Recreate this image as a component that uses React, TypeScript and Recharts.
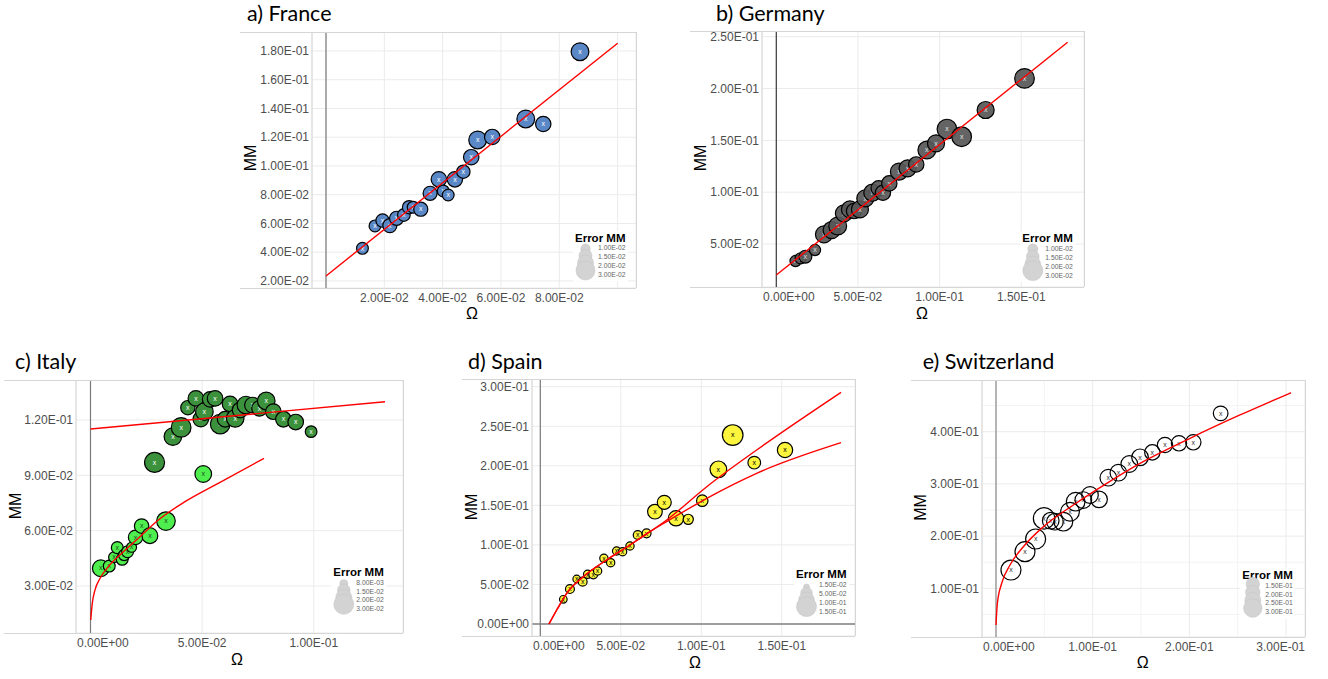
import React from 'react';
import { ScatterChart, Scatter, XAxis, YAxis, ZAxis, CartesianGrid, ReferenceLine } from 'recharts';

// a) France
const franceOmega = [0.0125, 0.0168, 0.0194, 0.0219, 0.0242, 0.0267, 0.0285, 0.0299, 0.0325, 0.0357, 0.0387, 0.0402, 0.0419, 0.0442, 0.0471, 0.0498, 0.052, 0.057, 0.0685, 0.0745, 0.0871];
const franceMM = [0.0427, 0.0583, 0.062, 0.0585, 0.0636, 0.0659, 0.0713, 0.0713, 0.0699, 0.081, 0.0907, 0.0826, 0.0798, 0.0907, 0.096, 0.1061, 0.1181, 0.1202, 0.1327, 0.1292, 0.1795];
const franceErr = [0.011, 0.011, 0.015, 0.017, 0.017, 0.013, 0.015, 0.011, 0.017, 0.017, 0.021, 0.011, 0.011, 0.021, 0.015, 0.021, 0.029, 0.021, 0.029, 0.021, 0.029];
const franceFitOmega = [0, 0.1];
const franceFitMM = [0.0235, 0.1854];

// b) Germany
const germanyOmega = [0.0118, 0.0149, 0.0178, 0.0237, 0.0292, 0.0339, 0.0376, 0.0414, 0.0451, 0.0476, 0.0512, 0.0545, 0.0588, 0.0627, 0.0653, 0.0692, 0.0751, 0.0804, 0.0857, 0.0922, 0.0978, 0.1045, 0.1135, 0.1282, 0.152];
const germanyMM = [0.0336, 0.0362, 0.0378, 0.0442, 0.0593, 0.0635, 0.0674, 0.0796, 0.0834, 0.0818, 0.0834, 0.094, 0.0995, 0.1037, 0.0995, 0.1085, 0.1198, 0.123, 0.1268, 0.1407, 0.1471, 0.1609, 0.1535, 0.1793, 0.2098];
const germanyErr = [0.01, 0.01, 0.013, 0.01, 0.022, 0.022, 0.024, 0.022, 0.022, 0.018, 0.022, 0.022, 0.022, 0.018, 0.018, 0.018, 0.022, 0.022, 0.018, 0.024, 0.022, 0.029, 0.029, 0.022, 0.029];
const germanyFitOmega = [0, 0.1784];
const germanyFitMM = [0.0201, 0.2446];

// c) Italy (two groups)
const italyHighOmega = [0.0287, 0.0369, 0.0406, 0.0436, 0.0472, 0.0494, 0.051, 0.0536, 0.0558, 0.0581, 0.0603, 0.0625, 0.0648, 0.067, 0.0696, 0.0725, 0.0757, 0.0787, 0.0819, 0.0864, 0.0919, 0.0988];
const italyHighMM = [0.097, 0.111, 0.116, 0.1267, 0.1317, 0.1205, 0.1245, 0.1312, 0.1317, 0.1178, 0.1204, 0.1287, 0.1209, 0.1254, 0.1281, 0.1281, 0.1263, 0.1303, 0.1245, 0.1204, 0.1189, 0.1137];
const italyHighErr = [0.03, 0.0234, 0.029, 0.0156, 0.0185, 0.0185, 0.0234, 0.0185, 0.0185, 0.029, 0.0185, 0.0185, 0.0234, 0.0185, 0.0234, 0.0185, 0.0185, 0.0234, 0.0185, 0.0185, 0.0185, 0.0106];
const italyLowOmega = [0.0046, 0.0084, 0.0105, 0.012, 0.0142, 0.0151, 0.0166, 0.0184, 0.0202, 0.0229, 0.0266, 0.0338, 0.0505];
const italyLowMM = [0.0396, 0.0408, 0.0456, 0.0508, 0.0445, 0.0468, 0.0486, 0.051, 0.0564, 0.0625, 0.0573, 0.0652, 0.0907];
const italyLowErr = [0.021, 0.011, 0.009, 0.011, 0.011, 0.01, 0.011, 0.008, 0.016, 0.016, 0.019, 0.026, 0.021];
const italyHighFitOmega = [0, 0.1319];
const italyHighFitMM = [0.1151, 0.1299];
const italyLowFitOmega = [0.0001, 0.0008, 0.002, 0.0043, 0.008, 0.014, 0.0214, 0.0304, 0.0423, 0.0572, 0.0777];
const italyLowFitMM = [0.0116, 0.0206, 0.0278, 0.0342, 0.0405, 0.0477, 0.0559, 0.0658, 0.0757, 0.0857, 0.0992];

// d) Spain
const spainOmega = [0.0143, 0.0184, 0.0226, 0.0263, 0.0294, 0.0329, 0.0356, 0.0395, 0.0437, 0.0474, 0.0511, 0.0557, 0.0605, 0.066, 0.0712, 0.077, 0.0843, 0.0919, 0.1006, 0.1106, 0.1195, 0.1329, 0.152];
const spainMM = [0.0312, 0.0442, 0.0569, 0.0535, 0.0628, 0.0628, 0.067, 0.083, 0.0775, 0.0923, 0.0914, 0.0986, 0.1125, 0.1146, 0.142, 0.1538, 0.1336, 0.1323, 0.1559, 0.1955, 0.2389, 0.204, 0.22];
const spainErr = [0.015, 0.023, 0.015, 0.023, 0.019, 0.023, 0.019, 0.019, 0.019, 0.019, 0.019, 0.019, 0.023, 0.023, 0.073, 0.066, 0.08, 0.032, 0.042, 0.096, 0.15, 0.053, 0.08];
const spainFitOmega = [0.0054, 0.0102, 0.0164, 0.0267, 0.0412, 0.0557, 0.0681, 0.0785, 0.1034, 0.1344, 0.1868];
const spainFitUpperMM = [0, 0.0177, 0.0388, 0.0598, 0.0809, 0.0999, 0.1167, 0.1315, 0.1736, 0.22, 0.2929];
const spainFitLowerMM = [0, 0.0177, 0.0388, 0.0598, 0.0809, 0.0999, 0.1167, 0.1294, 0.1589, 0.1905, 0.2292];

// e) Switzerland
const swissOmega = [0.0155, 0.03, 0.041, 0.0497, 0.0566, 0.061, 0.0697, 0.0766, 0.0824, 0.0903, 0.0972, 0.1066, 0.1162, 0.1266, 0.1379, 0.149, 0.1617, 0.1748, 0.1893, 0.2041, 0.2324];
const swissMM = [0.1351, 0.1702, 0.1945, 0.234, 0.2296, 0.2277, 0.2277, 0.2468, 0.266, 0.2691, 0.2787, 0.2704, 0.3119, 0.3215, 0.3381, 0.3509, 0.3604, 0.3745, 0.3777, 0.3796, 0.4351];
const swissErr = [0.264, 0.264, 0.264, 0.298, 0.189, 0.189, 0.233, 0.233, 0.233, 0.189, 0.189, 0.189, 0.189, 0.189, 0.189, 0.189, 0.163, 0.163, 0.163, 0.163, 0.151];
const swissFitOmega = [0, 0.0014, 0.0059, 0.0145, 0.0283, 0.049, 0.08, 0.1145, 0.149, 0.2007, 0.2524, 0.3052];
const swissFitMM = [0.0298, 0.0714, 0.1097, 0.1447, 0.1798, 0.2181, 0.2596, 0.3012, 0.3395, 0.3874, 0.432, 0.4747];

// ticks
const franceXTicks = [0, 0.02, 0.04, 0.06, 0.08, 0.1];
const franceYTicks = [0.02, 0.04, 0.06, 0.08, 0.1, 0.12, 0.14, 0.16, 0.18];
const germanyXTicks = [0, 0.05, 0.1, 0.15];
const germanyYTicks = [0.05, 0.1, 0.15, 0.2, 0.25];
const italyXTicks = [0, 0.05, 0.1];
const italyYTicks = [0.03, 0.06, 0.09, 0.12];
const spainXTicks = [0, 0.05, 0.1, 0.15];
const spainYTicks = [0, 0.05, 0.1, 0.15, 0.2, 0.25, 0.3];
const swissXTicks = [0, 0.1, 0.2, 0.3];
const swissYTicks = [0.1, 0.2, 0.3, 0.4];
const swissMinorX = [0.05, 0.15, 0.25];
const swissMinorY = [0.05, 0.15, 0.25, 0.35, 0.45];

// legend labels
const franceLegend = ['1.00E-02', '1.50E-02', '2.00E-02', '3.00E-02'];
const germanyLegend = ['1.00E-02', '1.50E-02', '2.00E-02', '3.00E-02'];
const italyLegend = ['8.00E-03', '1.50E-02', '2.00E-02', '3.00E-02'];
const spainLegend = ['1.50E-02', '5.00E-02', '1.00E-01', '1.50E-01'];
const swissLegend = ['1.50E-01', '2.00E-01', '2.50E-01', '3.00E-01'];

const SANS = "'Liberation Sans', Arial, sans-serif";
const TICK_COLOR = '#4d4d4d';
const YW = 70;
const XH = 26;

const sci = (v: number) => {
  const [m, e] = v.toExponential(2).split('e');
  const sign = e[0] === '-' ? '-' : '+';
  const d = e.replace(/[+-]/, '').padStart(2, '0');
  return `${m}E${sign}${d}`;
};

const zip = (xs: number[], ys: number[], zs?: number[]) =>
  xs.map((x, i) => ({ x, y: ys[i], z: zs ? zs[i] : undefined }));

const area = (r: number) => Math.PI * r * r;

const panels = [
  {
    key: 'fr', title: 'a) France', titleX: 247, titleY: 21,
    frameLeft: 240, pl: 312, pt: 32, pr: 636, pb: 288,
    xDomain: [-0.0048, 0.1063], yDomain: [0.0151, 0.1932],
    xTicks: franceXTicks, yTicks: franceYTicks, hiddenX: [0, 0.1],
    zDomain: [0.01, 0.03], zRange: [area(5.7), area(9)],
    vColor: '#7a7a7a',
    series: [{ data: zip(franceOmega, franceMM, franceErr), fill: '#5a87c6', mark: '#ffffff', opacity: 1 }],
    fits: [{ data: zip(franceFitOmega, franceFitMM), curved: false }],
    mm: [250, 158], omega: [472, 313],
    legend: { x: 575, y: 241.7, labels: franceLegend, radii: [4.7, 6.5, 8, 9.5] },
  },
  {
    key: 'de', title: 'b) Germany', titleX: 716, titleY: 21,
    frameLeft: 690, pl: 762, pt: 31, pr: 1084, pb: 287,
    xDomain: [-0.00876, 0.18843], yDomain: [0.00856, 0.2555],
    xTicks: germanyXTicks, yTicks: germanyYTicks, hiddenX: [],
    zDomain: [0.01, 0.03], zRange: [area(5.6), area(10)],
    vColor: '#3a3a3a',
    series: [{ data: zip(germanyOmega, germanyMM, germanyErr), fill: '#575757', mark: '#e0e0e0', opacity: 0.92 }],
    fits: [{ data: zip(germanyFitOmega, germanyFitMM), curved: false }],
    mm: [700, 158], omega: [922, 313],
    legend: { x: 1022.3, y: 242.3, labels: germanyLegend, radii: [5, 6.3, 7.8, 10] },
  },
  {
    key: 'it', title: 'c) Italy', titleX: 15, titleY: 369,
    frameLeft: 4, pl: 76, pt: 380, pr: 403, pb: 633,
    xDomain: [-0.00649, 0.13995], yDomain: [0.00452, 0.14169],
    xTicks: italyXTicks, yTicks: italyYTicks, hiddenX: [],
    zDomain: [0.008, 0.03], zRange: [area(5), area(10)],
    vColor: '#7a7a7a',
    series: [
      { data: zip(italyHighOmega, italyHighMM, italyHighErr), fill: '#3c923c', mark: '#ffffff', opacity: 1 },
      { data: zip(italyLowOmega, italyLowMM, italyLowErr), fill: '#4eee4e', mark: '#1f4a1f', opacity: 1 },
    ],
    fits: [
      { data: zip(italyHighFitOmega, italyHighFitMM), curved: false },
      { data: zip(italyLowFitOmega, italyLowFitMM), curved: true },
    ],
    mm: [15, 506], omega: [237, 659],
    legend: { x: 333.3, y: 576, labels: italyLegend, radii: [4, 6.3, 8, 10] },
  },
  {
    key: 'es', title: 'd) Spain', titleX: 468, titleY: 369,
    frameLeft: 462, pl: 532, pt: 379, pr: 855, pb: 636,
    xDomain: [-0.00516, 0.19547], yDomain: [-0.01517, 0.30973],
    xTicks: spainXTicks, yTicks: spainYTicks, hiddenX: [],
    zDomain: [0.015, 0.15], zRange: [area(3.8), area(10.3)],
    vColor: '#7a7a7a', hline0: true,
    series: [{ data: zip(spainOmega, spainMM, spainErr), fill: '#fbf53d', mark: '#000000', opacity: 1 }],
    fits: [
      { data: zip(spainFitOmega, spainFitUpperMM), curved: true },
      { data: zip(spainFitOmega, spainFitLowerMM), curved: true },
    ],
    mm: [471.7, 507], omega: [695, 662.7],
    legend: { x: 796, y: 578.3, labels: spainLegend, radii: [3, 5.8, 7.8, 10] },
  },
  {
    key: 'ch', title: 'e) Switzerland', titleX: 922.7, titleY: 369,
    frameLeft: 911, pl: 982, pt: 380, pr: 1305, pb: 637,
    xDomain: [-0.01448, 0.31965], yDomain: [0.00685, 0.499],
    xTicks: swissXTicks, yTicks: swissYTicks, hiddenX: [],
    zDomain: [0.15, 0.3], zRange: [area(7.3), area(10.7)],
    vColor: '#8a8a8a', minorX: swissMinorX, minorY: swissMinorY,
    series: [{ data: zip(swissOmega, swissMM, swissErr), fill: 'none', mark: '#333333', opacity: 1 }],
    fits: [{ data: zip(swissFitOmega, swissFitMM), curved: true }],
    mm: [920.8, 507.5], omega: [1142.7, 662.7],
    legend: { x: 1242.3, y: 579, labels: swissLegend, radii: [6.7, 7.2, 8, 9.2] },
  },
];

const Bubble = (props: any) => {
  const { cx, cy, width, size, color, mark, opacity } = props;
  if (cx == null || cy == null) return <g />;
  const r = width ? width / 2 : Math.sqrt(size / Math.PI);
  return (
    <g>
      <circle cx={cx} cy={cy} r={r} fill={color} fillOpacity={opacity} stroke="#000" strokeWidth={1.2} />
      <text x={cx} y={cy + 2.2} textAnchor="middle" fontSize={7} fontFamily={SANS} fill={mark}>x</text>
    </g>
  );
};

// tick labels are kept inside the panel, as in the original (0 and last label shift inwards)
const XTick = (props: any) => {
  const { x, y, payload, hidden, rightEdge } = props;
  const v = payload.value;
  if (hidden && hidden.includes(v)) return null;
  const half = 24.5;
  let tx = x;
  let anchor: 'start' | 'middle' | 'end' = 'middle';
  if (x - half < YW) { tx = YW + 1; anchor = 'start'; }
  else if (x + half > rightEdge) { tx = rightEdge; anchor = 'end'; }
  return (
    <text x={tx} y={y} dy="0.71em" textAnchor={anchor} fill={TICK_COLOR} fontSize={12} fontFamily={SANS}>
      {sci(v)}
    </text>
  );
};

function Panel({ cfg }: { cfg: any }) {
  const width = cfg.pr - cfg.pl + YW;
  const height = cfg.pb - cfg.pt + XH;
  return (
    <div style={{ position: 'absolute', left: cfg.pl - YW, top: cfg.pt }}>
      <ScatterChart width={width} height={height} margin={{ top: 0, right: 0, bottom: 0, left: 0 }}>
        {cfg.minorX && (
          <CartesianGrid stroke="#f3f3f3" verticalValues={cfg.minorX} horizontalValues={cfg.minorY} />
        )}
        <CartesianGrid stroke="#ebebeb" />
        <XAxis type="number" dataKey="x" domain={cfg.xDomain} allowDataOverflow ticks={cfg.xTicks} interval={0}
          tickLine={false} axisLine={false} tickSize={0} tickMargin={5} height={XH}
          tick={<XTick hidden={cfg.hiddenX} rightEdge={width} />} />
        <YAxis type="number" dataKey="y" domain={cfg.yDomain} allowDataOverflow ticks={cfg.yTicks} interval={0}
          tickLine={false} axisLine={{ stroke: '#d6d6d6' }} tickSize={0} tickMargin={3} width={YW}
          tickFormatter={sci} tick={{ fill: TICK_COLOR, fontSize: 12, fontFamily: SANS }} />
        <ZAxis type="number" dataKey="z" domain={cfg.zDomain} range={cfg.zRange} />
        <ReferenceLine x={0} stroke={cfg.vColor} strokeWidth={1.2} />
        {cfg.hline0 && <ReferenceLine y={0} stroke="#808080" strokeWidth={1.6} />}
        {cfg.series.map((s: any, i: number) => (
          <Scatter key={`s${i}`} data={s.data} isAnimationActive={false}
            shape={(p: any) => <Bubble {...p} color={s.fill} mark={s.mark} opacity={s.opacity} />} />
        ))}
        {cfg.fits.map((f: any, i: number) => (
          <Scatter key={`f${i}`} data={f.data} isAnimationActive={false}
            line={{ stroke: '#ff0000', strokeWidth: 1.4 }} lineType="joint"
            lineJointType={f.curved ? 'monotoneX' : 'linear'} shape={() => <g />} />
        ))}
      </ScatterChart>
    </div>
  );
}

function ErrorLegend({ x, y, labels, radii }: { x: number; y: number; labels: string[]; radii: number[] }) {
  const rowCenter = [6.3, 15.2, 24, 32.9];
  return (
    <g>
      <rect x={x - 2} y={y - 11} width={55} height={51} fill="#ffffff" />
      <text x={x} y={y} fontSize={11.5} fontWeight="bold" fontFamily={SANS} fill="#000">Error MM</text>
      {radii.map((r, i) => (
        <circle key={i} cx={x + 10.5} cy={y + rowCenter[i] + 5.4 - r} r={r}
          fill="#d3d3d3" stroke="#c6c6c6" strokeWidth={0.6} />
      ))}
      {labels.map((l, i) => (
        <text key={l + i} x={x + 23} y={y + rowCenter[i] + 2.4} fontSize={6.8} fontFamily={SANS} fill="#666">{l}</text>
      ))}
    </g>
  );
}

export default function App() {
  return (
    <div style={{ position: 'absolute', left: 0, top: 0, width: 1328, height: 679, background: '#fff' }}>
      {panels.map((p) => <Panel key={p.key} cfg={p} />)}
      <svg width={1328} height={679} style={{ position: 'absolute', left: 0, top: 0, pointerEvents: 'none' }}>
        {panels.map((p) => (
          <g key={p.key}>
            <line x1={p.frameLeft} y1={p.pt + 0.5} x2={p.pr} y2={p.pt + 0.5} stroke="#d6d6d6" />
            <line x1={p.frameLeft} y1={p.pb + 0.5} x2={p.pr} y2={p.pb + 0.5} stroke="#d6d6d6" />
            <line x1={p.pr + 0.5} y1={p.pt} x2={p.pr + 0.5} y2={p.pb} stroke="#d6d6d6" />
            <text x={p.titleX} y={p.titleY} fontSize={21.5} fontFamily="Lato, 'Open Sans', sans-serif" fill="#000">{p.title}</text>
            <text x={p.mm[0]} y={p.mm[1]} transform={`rotate(-90 ${p.mm[0]} ${p.mm[1]})`} textAnchor="middle"
              dominantBaseline="central" fontSize={16} fontFamily={SANS} fill="#000">MM</text>
            <text x={p.omega[0]} y={p.omega[1]} textAnchor="middle" dominantBaseline="central"
              fontSize={16} fontFamily={SANS} fill="#000">Ω</text>
            <ErrorLegend {...p.legend} />
          </g>
        ))}
      </svg>
    </div>
  );
}
